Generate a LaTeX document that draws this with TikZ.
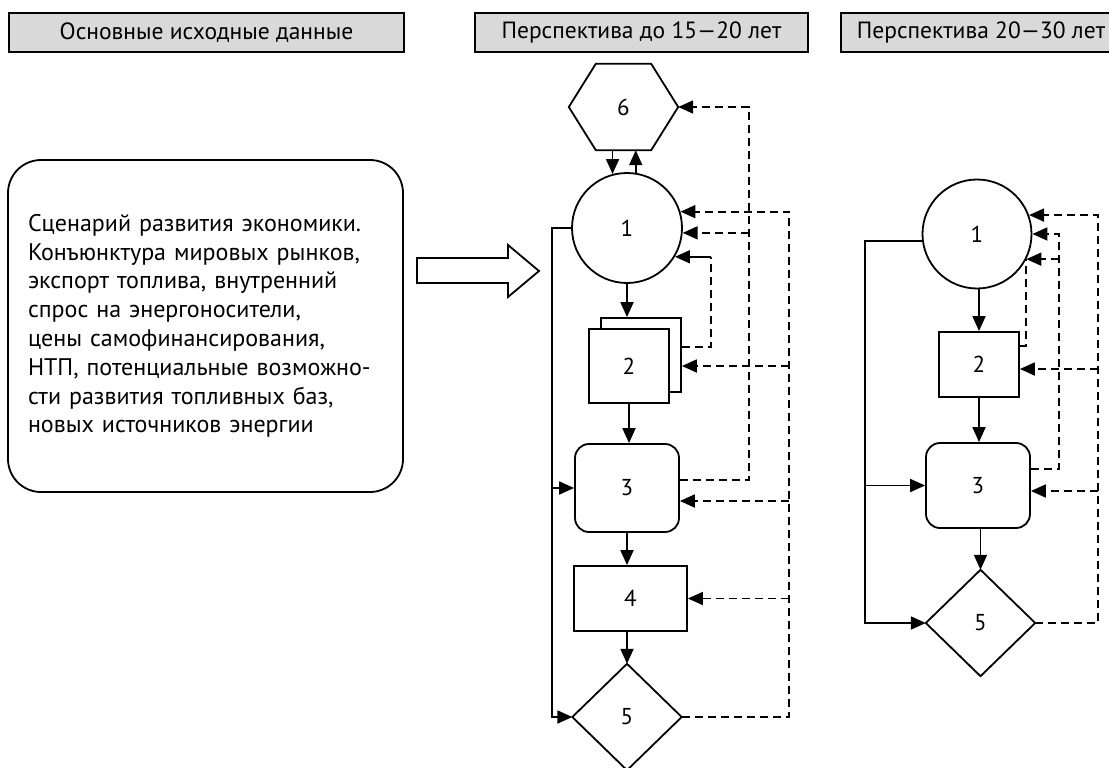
\documentclass[tikz,border=0pt]{standalone}
\usepackage{fontspec}
\setmainfont{PT Sans}
\usetikzlibrary{arrows.meta,calc}
\definecolor{hdrgray}{RGB}{217,217,217}
\begin{document}
\begin{tikzpicture}[x=1pt,y=-1pt,
  ln/.style={line width=1.8pt},
  arr/.style={ln,-{Triangle[length=15pt,width=13pt]}},
  dsh/.style={ln,dash pattern=on 8pt off 5pt},
  hdr/.style={draw,line width=1.8pt,fill=hdrgray,minimum height=39pt,inner sep=0pt,font=\fontsize{23.5}{28}\selectfont},
  num/.style={font=\fontsize{23}{27}\selectfont},
  bx/.style={num,draw,ln,fill=white},
  rbx/.style={bx,rounded corners=14pt},
  circ/.style={bx,circle,inner sep=0pt},
  shp/.style={num,inner sep=0pt}
]
\useasboundingbox (0,0) rectangle (1109,768);
\fill[white] (0,0) rectangle (1109,768);

% headers
\node[hdr,minimum width=395pt] (hA) at (206.5,32.5) {Основные исходные данные};
\node[hdr,minimum width=333pt] (hB) at (641.5,32.5) {Перспектива до 15—20 лет};
\node[hdr,minimum width=280pt] (hC) at (981,32.5) {Перспектива 20—30 лет};

% source box
\node[draw,ln,rounded corners=33pt,minimum width=395pt,minimum height=332pt,text width=355pt,align=left,inner sep=0pt,font=\fontsize{24}{28.8}\selectfont] (src) at (205.5,326)
{Сценарий развития экономики.\\
Конъюнктура мировых рынков,\\
экспорт топлива, внутренний\\
спрос на энергоносители,\\
цены самофинансирования,\\
НТП, потенциальные возможно-\\
сти развития топливных баз,\\
новых источников энергии};

% block arrow
\draw[ln] (417,258) -- (508,258) -- (508,245) -- (539,271) -- (508,297) -- (508,283) -- (417,283) -- cycle;

% ---------- middle column ----------
\node[shp,minimum width=109pt,minimum height=86pt] (h6) at (623.5,107) {6};
\draw[ln] (h6.west) -- ($(h6.north west)+(27,0)$) -- ($(h6.north east)+(-27,0)$) -- (h6.east)
  -- ($(h6.south east)+(-27,0)$) -- ($(h6.south west)+(27,0)$) -- cycle;
\node[circ,minimum size=110pt] (c1) at (627,228) {1};
\node[bx,minimum width=80pt,minimum height=74pt] (b2b) at (641,355) {};
\node[bx,minimum width=80pt,minimum height=74pt] (b2) at (629,366) {2};
\node[rbx,minimum width=104pt,minimum height=88pt] (b3) at (627,488) {3};
\node[bx,minimum width=113pt,minimum height=65pt] (b4) at (630.5,598.5) {4};
\node[shp,minimum width=109pt,minimum height=106pt] (d5) at (627,717) {5};
\draw[ln] (d5.north) -- (d5.east) -- (d5.south) -- (d5.west) -- cycle;

\coordinate (L1) at (552,0);
\coordinate (R0) at (711,0);
\coordinate (R1) at (749,0);
\coordinate (R2) at (789,0);
\coordinate (b3out) at ([yshift=8pt]b3.east);
\coordinate (b3in) at ([yshift=-13pt]b3.east);
\coordinate (b2out) at ([yshift=8pt]b2b.east);

\draw[arr] (h6.south -| c1.105) -- (c1.105);
\draw[arr] (c1.81) -- (c1.81 |- h6.south);
\draw[arr] (c1.south) -- (c1.south |- b2b.north);
\draw[arr] (b2.south) -- (b2.south |- b3.north);
\draw[arr] (b3.south) -- (b3.south |- b4.north);
\draw[arr] (d5.north |- b4.south) -- (d5.north);

\draw[arr] (c1.west) -| (L1 |- d5.west) -- (d5.west);
\draw[arr] (L1 |- b3.west) -- (b3.west);

\draw[dsh,arr] (d5.east) -| (R2 |- c1.17) -- (c1.17);
\draw[dsh,arr] (b2 -| R2) -- (b2 -| b2b.east);
\draw[dsh,arr] (b3in -| R2) -- (b3in);
\draw[dsh,arr] (b4.east -| R2) -- (b4.east);
\draw[dsh,arr] (b3out) -| (R1 |- h6.east) -- (h6.east);
\draw[dsh,arr] (R1 |- c1.-5) -- (c1.-5);
\draw[dsh] (b2out) -| (R0 |- c1.-31);
\draw[arr] (R0 |- c1.-31) -- (c1.-31);

% ---------- right column ----------
\node[circ,minimum size=109pt] (r1) at (977,234) {1};
\node[bx,minimum width=80pt,minimum height=65pt] (r2) at (979,364.5) {2};
\node[rbx,minimum width=104pt,minimum height=85pt] (r3) at (978,485.5) {3};
\node[shp,minimum width=109pt,minimum height=106pt] (r5) at (980.5,623) {5};
\draw[ln] (r5.north) -- (r5.east) -- (r5.south) -- (r5.west) -- cycle;

\coordinate (L2) at (865,0);
\coordinate (Q0) at (1059,0);
\coordinate (Q1) at (1098,0);
\coordinate (r2in) at ([yshift=-4.5pt]r2.east);
\coordinate (r2out) at ([yshift=18.5pt]r2.east);
\coordinate (r3in) at ([yshift=-5.5pt]r3.east);
\coordinate (r3out) at ([yshift=16.5pt]r3.east);

\draw[arr] (r2.north |- r1.south) -- (r2.north);
\draw[arr] (r2.south) -- (r2.south |- r3.north);
\draw[arr] (r5.north |- r3.south) -- (r5.north);

\draw[arr] (r1.187) -| (L2 |- r5.west) -- (r5.west);
\draw[arr] (L2 |- r3.west) -- (r3.west);

\draw[dsh,arr] (r5.east) -| (Q1 |- r1.20) -- (r1.20);
\draw[dsh,arr] (r2in -| Q1) -- (r2in);
\draw[dsh,arr] (r3in -| Q1) -- (r3in);
\draw[dsh,arr] (r3out) -| (Q0 |- r1.east) -- (r1.east);
\draw[dsh,arr] (Q0 |- r1.-27) -- (r1.-27);
\draw[dsh] (r2out) -| (r1.-27);
\end{tikzpicture}
\end{document}
